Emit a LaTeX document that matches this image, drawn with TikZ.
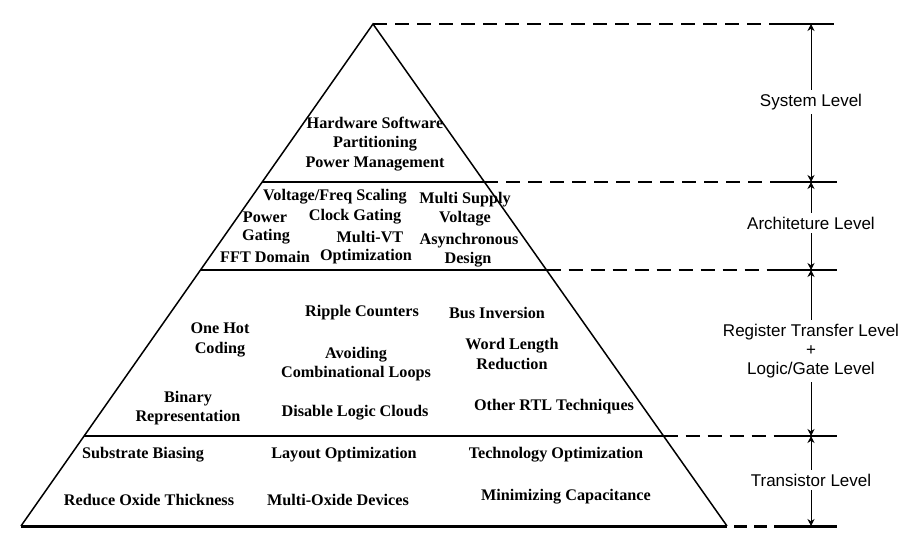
\documentclass[tikz,border=0pt]{standalone}
\usepackage{fontspec}
\setmainfont{Liberation Serif}
\newfontfamily\lblfont{Liberation Sans}
\usetikzlibrary{arrows.meta}
\begin{document}
\begin{tikzpicture}[x=1pt,y=-1pt,
  txt/.style={font=\fontsize{16.2}{19.5}\selectfont\bfseries, inner sep=0pt, align=center},
  lvl/.style={font=\lblfont\fontsize{17}{19}\selectfont, inner sep=4pt, align=center},
  edgeline/.style={line width=1.5pt},
  baseline/.style={line width=3pt},
  dsh/.style={line width=1.5pt, dash pattern=on 14pt off 8pt},
  dshbase/.style={line width=3pt, dash pattern=on 13pt off 7pt, dash phase=13pt},
  arr/.style={line width=0.8pt, -{Stealth[length=7pt,width=7pt]}}]
\useasboundingbox (0,0) rectangle (916,553);
% pyramid corners
\coordinate (apex) at (373,24);
\coordinate (bl) at (21,526);
\coordinate (br) at (727,526);
% level boundaries on the pyramid edges
\coordinate (l1) at (262.2,182);
\coordinate (r1) at (484.4,182);
\coordinate (l2) at (200.5,270);
\coordinate (r2) at (546.5,270);
\coordinate (l3) at (84.1,436);
\coordinate (r3) at (663.5,436);
% right-hand ends
\coordinate (d0) at (772,24);  \coordinate (e0) at (834,24);
\coordinate (d1) at (774,182); \coordinate (e1) at (837,182);
\coordinate (d2) at (774,270); \coordinate (e2) at (837,270);
\coordinate (d3) at (774,436); \coordinate (e3) at (837,436);
\coordinate (d4) at (776,526); \coordinate (e4) at (837,526);
% arrow points
\coordinate (a0) at (811,24);
\coordinate (a1) at (811,182);
\coordinate (a2) at (811,270);
\coordinate (a3) at (811,436);
\coordinate (a4) at (811,526);

% pyramid
\draw[edgeline] (bl) -- (apex) -- (br);
\draw[baseline] (bl) -- (br);
\draw[edgeline] (l1) -- (r1);
\draw[edgeline] (l2) -- (r2);
\draw[edgeline] (l3) -- (r3);

% dashed extensions
\draw[dsh] (apex) -- (d0); \draw[edgeline] (d0) -- (e0);
\draw[dsh] (r1) -- (d1); \draw[edgeline] (d1) -- (e1);
\draw[dsh] (r2) -- (d2); \draw[edgeline] (d2) -- (e2);
\draw[dsh] (r3) -- (d3); \draw[edgeline] (d3) -- (e3);
\draw[dshbase] (br) -- (d4); \draw[baseline] (d4) -- (e4);

% level labels
\node[lvl] (sys) at (811,102) {System Level};
\node[lvl] (arch) at (811,223) {Architeture Level};
\node[lvl] (rtl) at (811,351) {Register Transfer Level\\+\\Logic/Gate Level};
\node[lvl] (tr) at (811,480) {Transistor Level};
\draw[arr] (sys) -- (a0);
\draw[arr] (sys) -- (a1);
\draw[arr] (arch) -- (a1);
\draw[arr] (arch) -- (a2);
\draw[arr] (rtl) -- (a2);
\draw[arr] (rtl) -- (a3);
\draw[arr] (tr) -- (a3);
\draw[arr] (tr) -- (a4);

% system level
\node[txt] (hw) at (375,144) {Hardware Software\\Partitioning\\Power Management};
% architecture level
\node[txt] (vfs) at (335,197) {Voltage/Freq Scaling};
\node[txt] (ms) at (465,200) {Multi Supply};
\node[txt] (volt) at (465,219) {Voltage};
\node[txt] (async) at (469,241) {Asynchronous};
\node[txt] (design) at (468,260) {Design};
\node[txt] (pw) at (265,217) {Power};
\node[txt] (gt) at (266,237) {Gating};
\node[txt] (fft) at (265,257) {FFT Domain};
\node[txt] (cg) at (355,217) {Clock Gating};
\node[txt] (mvt) at (370,237) {Multi-VT};
\node[txt] (opt) at (366,257) {Optimization};
% RTL level
\node[txt] (oh) at (220,340) {One Hot\\Coding};
\node[txt] (bin) at (188,408) {Binary\\Representation};
\node[txt] (rc) at (362,313) {Ripple Counters};
\node[txt] (av) at (356,364) {Avoiding\\Combinational Loops};
\node[txt] (dlc) at (355,413) {Disable Logic Clouds};
\node[txt] (bi) at (497,313) {Bus Inversion};
\node[txt] (wl) at (512,354) {Word Length\\Reduction};
\node[txt] (ort) at (554,407) {Other RTL Techniques};
% transistor level
\node[txt] (sb) at (143,455) {Substrate Biasing};
\node[txt] (lo) at (344,455) {Layout Optimization};
\node[txt] (to) at (556,455) {Technology Optimization};
\node[txt] (rot) at (149,500) {Reduce Oxide Thickness};
\node[txt] (mod) at (338,500) {Multi-Oxide Devices};
\node[txt] (mc) at (566,497) {Minimizing Capacitance};
\end{tikzpicture}
\end{document}
